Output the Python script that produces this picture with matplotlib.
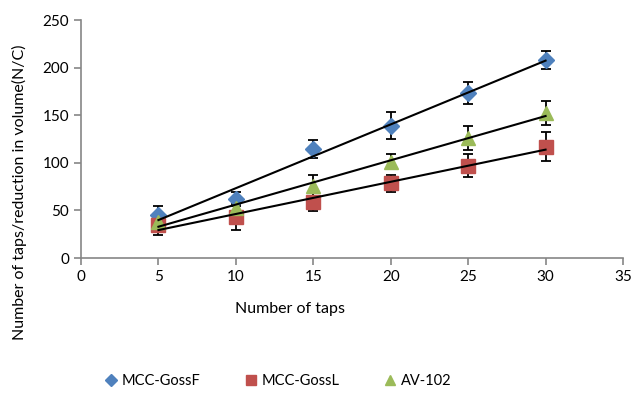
import numpy as np
import matplotlib
matplotlib.use("Agg")
import matplotlib.pyplot as plt
from matplotlib.lines import Line2D

plt.rcParams['font.family'] = ['Lato', 'DejaVu Sans']

taps = [5, 10, 15, 20, 25, 30]
goss_f = [45, 62, 114.5, 139, 173, 208]
goss_f_err = [10, 7, 9.5, 14, 11.5, 9.5]
goss_l = [35, 43, 59, 78.5, 97, 117]
goss_l_err = [11, 14, 10, 9, 12, 15]
av102 = [38, 53, 76, 101, 126, 152]
av102_err = [8, 8, 11, 8, 12.5, 12.5]

series = [
    ("MCC-GossF", goss_f, goss_f_err, "D", "#4F81BD", 8),
    ("MCC-GossL", goss_l, goss_l_err, "s", "#C0504D", 10),
    ("AV-102", av102, av102_err, "^", "#9BBB59", 10),
]

fig = plt.figure(figsize=(6.34, 3.97), dpi=100)
ax = fig.add_axes([81/634, 1 - 258/397, (623-81)/634, (258-20)/397])

x = np.array(taps, dtype=float)
for name, y, err, mk, col, ms in series:
    ax.errorbar(x, y, yerr=err, fmt=mk, color=col, ms=ms, ecolor='black',
                elinewidth=1.3, capsize=3.5, capthick=1.3, label=name, zorder=3)
for name, y, err, mk, col, ms in series:
    k, b = np.polyfit(x, y, 1)
    xs = np.array([x.min(), x.max()])
    ax.plot(xs, k * xs + b, color='black', lw=1.5, zorder=4)

ax.set_xlim(0, 35)
ax.set_ylim(0, 250)
ax.set_xticks(range(0, 36, 5))
ax.set_yticks(range(0, 251, 50))
for s in ['top', 'right']:
    ax.spines[s].set_visible(False)
for s in ['left', 'bottom']:
    ax.spines[s].set_color('#868686')
    ax.spines[s].set_linewidth(1.2)
ax.tick_params(axis='both', colors='#868686', labelcolor='black', labelsize=11,
               length=5, width=1.2, direction='out')
ax.set_xlabel("Number of taps", fontsize=11.5)
ax.xaxis.set_label_coords((290 - 81) / 542, -(302 - 258) / 238)
ax.set_ylabel("Number of taps/reduction in volume(N/C)", fontsize=11.5)
ax.yaxis.set_label_coords(-(81 - 27) / 542, (258 - 192) / 238)

handles = []
for name, y, err, mk, col, ms in series:
    handles.append(Line2D([], [], marker=mk, color=col, ls='none', ms=7 if mk != 'D' else 6))
fig.legend(handles, [s[0] for s in series], loc='center', bbox_to_anchor=(278 / 634, 1 - 381/397),
           ncol=3, frameon=False, fontsize=10.5, columnspacing=3.0, handletextpad=0.3,
           handlelength=0.9)

fig.savefig("out.png", dpi=100)
